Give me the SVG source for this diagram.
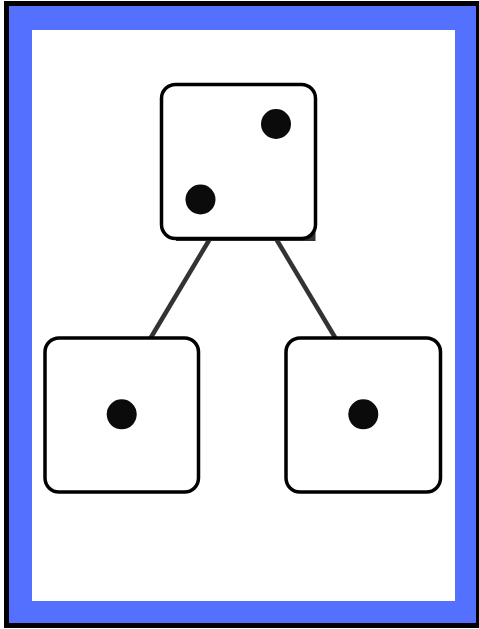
<svg xmlns="http://www.w3.org/2000/svg" width="479" height="629" viewBox="0 0 479 629">
  <style>
    .die { fill: #ffffff; stroke: #000000; stroke-width: 3.5; }
    .pip { fill: #0b0b0b; }
    .edge { stroke: #333333; stroke-width: 4.5; fill: none; }
  </style>
  <!-- frame -->
  <rect x="6.5" y="3.5" width="472" height="622" fill="#5470ff" stroke="#000000" stroke-width="5"/>
  <rect x="32" y="30" width="423" height="571" fill="#ffffff"/>

  <g id="connectors">
    <line class="edge" x1="211" y1="237" x2="150" y2="339"/>
    <line class="edge" x1="275" y1="237" x2="336" y2="339"/>
  </g>

  <g id="die-top">
    <rect x="176" y="96" width="139.5" height="145" fill="#333333"/>
    <rect class="die" x="161.5" y="84.5" width="154" height="154" rx="14"/>
    <circle class="pip" cx="276" cy="124" r="15"/>
    <circle class="pip" cx="200.5" cy="199.5" r="15"/>
  </g>

  <g id="die-left">
    <rect class="die" x="45" y="338" width="153.5" height="154" rx="14"/>
    <circle class="pip" cx="121.7" cy="414.3" r="15"/>
  </g>

  <g id="die-right">
    <rect class="die" x="286" y="338" width="154.5" height="154" rx="14"/>
    <circle class="pip" cx="363.3" cy="414.3" r="15"/>
  </g>
</svg>
